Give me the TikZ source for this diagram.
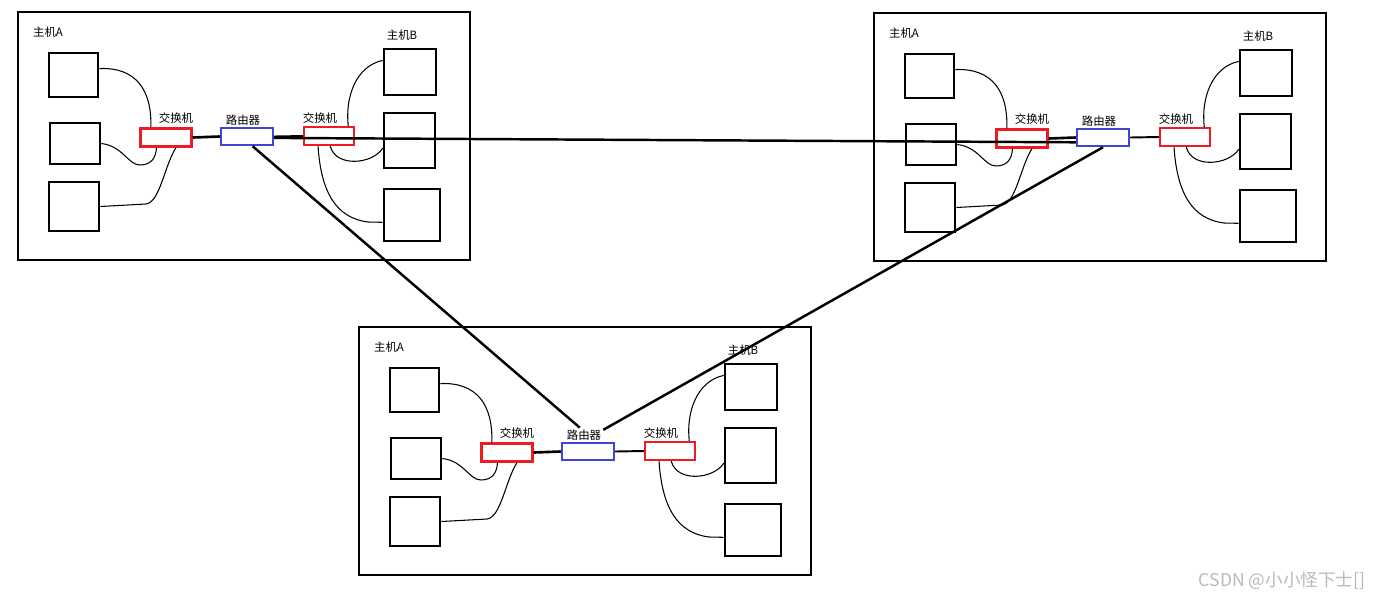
\documentclass[tikz,border=0pt]{standalone}
\usepackage{fontspec}
\usepackage{xcolor}
\usepackage{tikz}
\usetikzlibrary{positioning,calc}
\newfontfamily\cjk{Noto Sans CJK SC}
\definecolor{swred}{RGB}{237,28,36}
\definecolor{rtblue}{RGB}{63,72,204}
\newcommand{\pxu}{0.02cm}
\tikzset{
  lanframe/.style={draw, line width=1.4pt, inner sep=0pt},
  host/.style={draw, line width=1.5pt, inner sep=0pt},
  switchbox/.style={draw=swred, line width=1.4pt, inner sep=0pt, minimum width=51*\pxu, minimum height=18*\pxu},
  routerbox/.style={draw=rtblue, line width=1.4pt, inner sep=0pt, minimum width=52*\pxu, minimum height=17*\pxu},
  lbl/.style={font=\cjk\fontsize{6.5}{7}\selectfont, inner sep=1pt},
  wire/.style={line width=0.6pt},
  link/.style={line width=1.5pt},
  trunk/.style={line width=1.4pt},
}

% one LAN: frame, hosts A and B, two switches and the router
\newcommand{\netcluster}[3]{%
  \begin{scope}[shift={(#2,#3)}]
    \node[lanframe, minimum width=452*\pxu, minimum height=248*\pxu] (#1-box) at (226,124) {};
    \node[lbl] (#1-la) at (30,20) {主机A};
    \node[lbl] (#1-lb) at (384,23) {主机B};
    % hosts
    \node[host, minimum width=49*\pxu, minimum height=44*\pxu] (#1-a1) at (55.5,63) {};
    \node[host, minimum width=50*\pxu, minimum height=41*\pxu] (#1-a2) at (57,131.5) {};
    \node[host, minimum width=50*\pxu, minimum height=49*\pxu] (#1-a3) at (56,194.5) {};
    \node[host, minimum width=52*\pxu, minimum height=46*\pxu] (#1-b1) at (392,60) {};
    \node[host, minimum width=51*\pxu, minimum height=55*\pxu] (#1-b2) at (391.5,128.5) {};
    \node[host, minimum width=56*\pxu, minimum height=52*\pxu] (#1-b3) at (394,203) {};
    % switches and router
    \node[switchbox] (#1-sl) at (148,125.5) {};
    \node[routerbox] (#1-r) at (229,124.5) {};
    \node[switchbox, minimum width=50*\pxu] (#1-sr) at (311,124) {};
    \node[lbl] (#1-lsl) at (158,106) {交换机};
    \node[lbl] (#1-lr) at (225,108) {路由器};
    \node[lbl] (#1-lsr) at (302,106) {交换机};
    % cables
    \draw[link] (#1-sl.east) -- (#1-r.west);
    \draw[line width=1.1pt] (#1-r.east) -- (#1-sr.west);
    \draw[wire] (#1-a1.14) .. controls (118,55) and (134,78) .. (#1-sl.146);
    \draw[wire] (#1-a2.east) .. controls (105,134) and (110,153) .. (122,153)
                .. controls (133,153) and (138,146) .. (#1-sl.227);
    \draw[wire] (#1-a3.east) -- (128,192) .. controls (142,190) and (146,155) .. (#1-sl.314);
    \draw[wire] (#1-b1.157) .. controls (338,54) and (327,85) .. (#1-sr.28);
    \draw[wire] (#1-b2.196) .. controls (355,152) and (318,156) .. (#1-sr.277);
    \draw[wire] (#1-b3.194) -- (350,210) .. controls (318,206) and (303,180) .. (#1-sr.223);
  \end{scope}}

\begin{document}
\begin{tikzpicture}[x=0.02cm, y=-0.02cm]
    \useasboundingbox (0,0) rectangle (1388,602);

    \netcluster{c1}{18}{12}
    \netcluster{c2}{874}{13}
    \netcluster{c3}{359}{327}

    % links between the routers
    \draw[trunk] (c1-r.-3) -- (c2-r.190);
    \draw[trunk] (c1-r.300) -- (c3-lr.120);
    \draw[trunk] (c2-r.south) -- (c3-lr.15);

    \node[font=\cjk\fontsize{10}{11}\selectfont, text=gray!55] (mark) at (1282,581) {CSDN @小小怪下士[]};
\end{tikzpicture}
\end{document}
